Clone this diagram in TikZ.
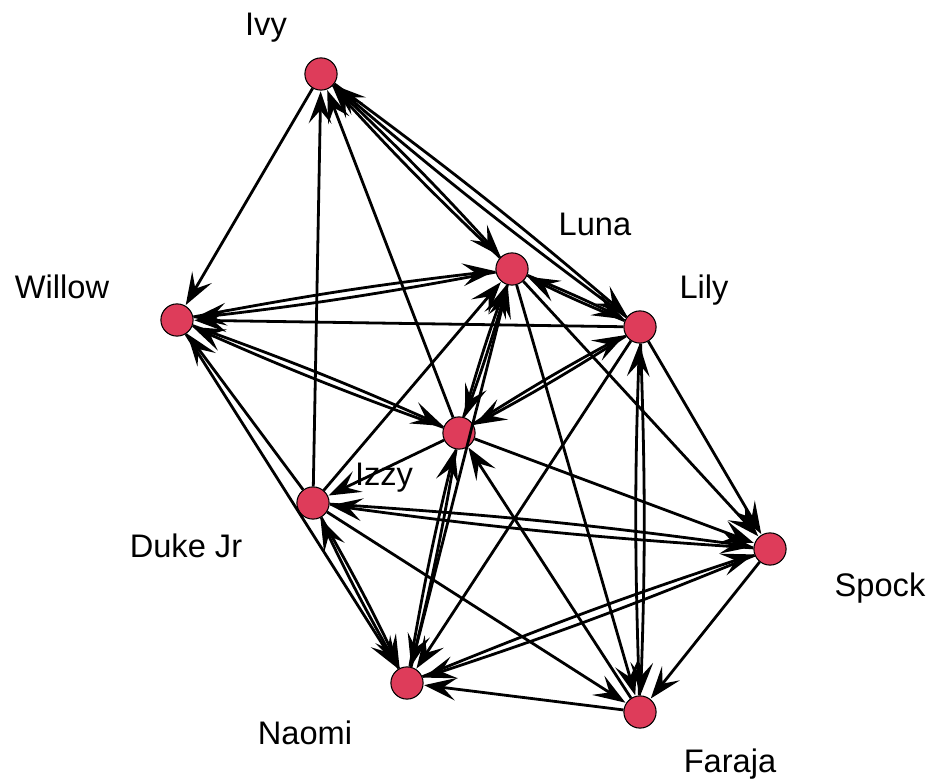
\documentclass[tikz,border=0pt]{standalone}
\usepackage{fontspec}
\setmainfont{Liberation Sans}
\usetikzlibrary{arrows.meta}
\definecolor{nodered}{RGB}{222,60,90}
\begin{document}
\begin{tikzpicture}[x=0.0264cm,y=-0.0264cm,
  vert/.style={circle,draw=black,line width=0.8pt,fill=nodered,minimum size=0.85cm,inner sep=0pt},
  lab/.style={anchor=base,font=\fontsize{24.5}{28}\selectfont},
  edge/.style={line width=2.1pt,-{Stealth[length=8.5mm,width=6mm,inset=3.5mm]},shorten >=0.5pt},
  mut/.style={edge,bend left=2}]
\useasboundingbox (0,0) rectangle (935,781);
\node[vert] (ivy) at (321,74) {};
\node[vert] (luna) at (512,269) {};
\node[vert] (lily) at (640,327) {};
\node[vert] (willow) at (177,320) {};
\node[vert] (izzy) at (459,433) {};
\node[vert] (duke) at (313,503) {};
\node[vert] (spock) at (770,549) {};
\node[vert] (naomi) at (407,683) {};
\node[vert] (faraja) at (640,712) {};
\node[lab] (lIvy) at (266,36) {Ivy};
\node[lab] (lLuna) at (595,236) {Luna};
\node[lab] (lLily) at (704,299) {Lily};
\node[lab] (lWillow) at (62,299) {Willow};
\node[lab] (lIzzy) at (384,486) {Izzy};
\node[lab] (lDuke) at (186,557) {Duke Jr};
\node[lab] (lSpock) at (880,596) {Spock};
\node[lab] (lNaomi) at (305,744) {Naomi};
\node[lab] (lFaraja) at (730,772) {Faraja};
\draw[edge] (ivy) -- (willow);
\draw[edge] (duke) -- (ivy);
\draw[edge] (izzy) -- (ivy);
\draw[mut] (ivy) to (luna);
\draw[mut] (luna) to (ivy);
\draw[mut] (ivy) to (lily);
\draw[mut] (lily) to (ivy);
\draw[mut] (willow) to (luna);
\draw[mut] (luna) to (willow);
\draw[edge] (lily) -- (willow);
\draw[mut] (izzy) to (willow);
\draw[mut] (willow) to (izzy);
\draw[edge] (duke) -- (willow);
\draw[edge] (willow) -- (naomi);
\draw[mut] (luna) to (lily);
\draw[mut] (lily) to (luna);
\draw[mut] (luna) to (izzy);
\draw[mut] (izzy) to (luna);
\draw[edge] (duke) -- (luna);
\draw[edge] (naomi) -- (luna);
\draw[edge] (luna) -- (spock);
\draw[edge] (luna) -- (faraja);
\draw[mut] (izzy) to (lily);
\draw[mut] (lily) to (izzy);
\draw[edge] (lily) -- (naomi);
\draw[edge] (lily) -- (spock);
\draw[mut] (lily) to (faraja);
\draw[mut] (faraja) to (lily);
\draw[mut] (izzy) to (naomi);
\draw[mut] (naomi) to (izzy);
\draw[edge] (izzy) -- (duke);
\draw[edge] (izzy) -- (spock);
\draw[edge] (faraja) -- (izzy);
\draw[mut] (spock) to (duke);
\draw[mut] (duke) to (spock);
\draw[mut] (spock) to (naomi);
\draw[mut] (naomi) to (spock);
\draw[edge] (spock) -- (faraja);
\draw[edge] (faraja) -- (naomi);
\draw[edge] (duke) -- (faraja);
\draw[mut] (duke) to (naomi);
\draw[mut] (naomi) to (duke);
\end{tikzpicture}
\end{document}
